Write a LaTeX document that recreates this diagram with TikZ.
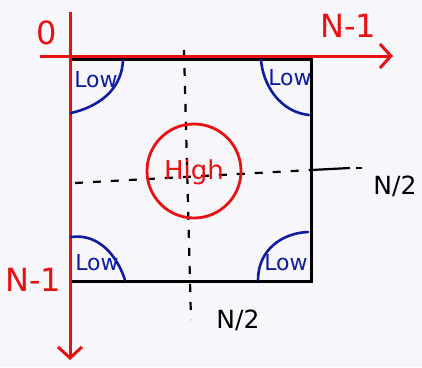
\documentclass[tikz,border=0pt]{standalone}
\usepackage{fontspec}
\setmainfont{DejaVu Sans}
\usetikzlibrary{arrows.meta}
\definecolor{penred}{RGB}{232,16,16}
\definecolor{penblue}{RGB}{16,28,160}
\definecolor{paper}{RGB}{247,247,251}
\tikzset{
  axis/.style={draw=penred, line width=3pt, -{Straight Barb[length=11pt,width=24pt,line width=3pt]}},
  border/.style={draw=black, line width=3pt},
  guide/.style={draw=black, line width=2.2pt, dash pattern=on 8pt off 10pt},
  solidguide/.style={draw=black, line width=2.2pt},
  lowarc/.style={draw=penblue, line width=2.6pt, line cap=round},
  lowlbl/.style={text=penblue, font=\fontsize{22}{22}\selectfont, inner sep=0pt},
  redlbl/.style={text=penred, font=\fontsize{32}{32}\selectfont, inner sep=0pt},
  blklbl/.style={text=black, font=\fontsize{25}{25}\selectfont, inner sep=0pt},
}
\begin{document}
\begin{tikzpicture}[x=1pt,y=-1pt]
\useasboundingbox (0,0) rectangle (422,367);
\fill[paper] (0,0) rectangle (422,367);
% square
\coordinate (tl) at (70,59);
\coordinate (tr) at (311,59);
\coordinate (br) at (311,281);
\coordinate (bl) at (70,281);
\draw[border] (tl) -- (tr) -- (br) -- (bl) -- cycle;
% dashed guides
\coordinate (vt) at (184,50);
\coordinate (vb) at (191,320);
\coordinate (hl) at (75,183);
\coordinate (hm) at (311,170);
\coordinate (hs) at (350,168);
\coordinate (hs2) at (356,168);
\coordinate (hr) at (362,168);
\draw[guide] (vt) -- (vb);
\draw[guide] (hl) -- (hm);
\draw[solidguide] (hm) -- (hs);
\draw[solidguide] (hs2) -- (hr);
% high circle
\node[draw=penred, line width=2.8pt, circle, minimum size=94pt, inner sep=0pt] (high) at (194,171) {};
\node[text=penred, font=\fontsize{26}{26}\selectfont, inner sep=0pt] (hightxt) at (194,172) {High};
% axes
\coordinate (xs) at (40,56);
\coordinate (xe) at (393,56);
\coordinate (ys) at (70,12);
\coordinate (ye) at (70,360);
\draw[axis] (xs) -- (xe);
\draw[axis] (ys) -- (ye);
% axis labels
\node[redlbl] (zero) at (47,33) {0};
\node[redlbl] (ntop) at (348,26) {N-1};
\node[redlbl] (nleft) at (33,280) {N-1};
\node[blklbl] (nhalfr) at (395,186) {N/2};
\node[blklbl] (nhalfb) at (238,320) {N/2};
% low corners
\draw[lowarc] (71,113) .. controls (105,105) and (122,85) .. (123,60);
\draw[lowarc] (261,60) .. controls (263,85) and (280,112) .. (309,115);
\draw[lowarc] (71,237) .. controls (100,233) and (118,258) .. (125,280);
\draw[lowarc] (258,280) .. controls (258,250) and (282,233) .. (308,232);
\node[lowlbl] (low1) at (96,80) {Low};
\node[lowlbl] (low2) at (290,78) {Low};
\node[lowlbl] (low3) at (97,263) {Low};
\node[lowlbl] (low4) at (286,263) {Low};
\end{tikzpicture}
\end{document}
